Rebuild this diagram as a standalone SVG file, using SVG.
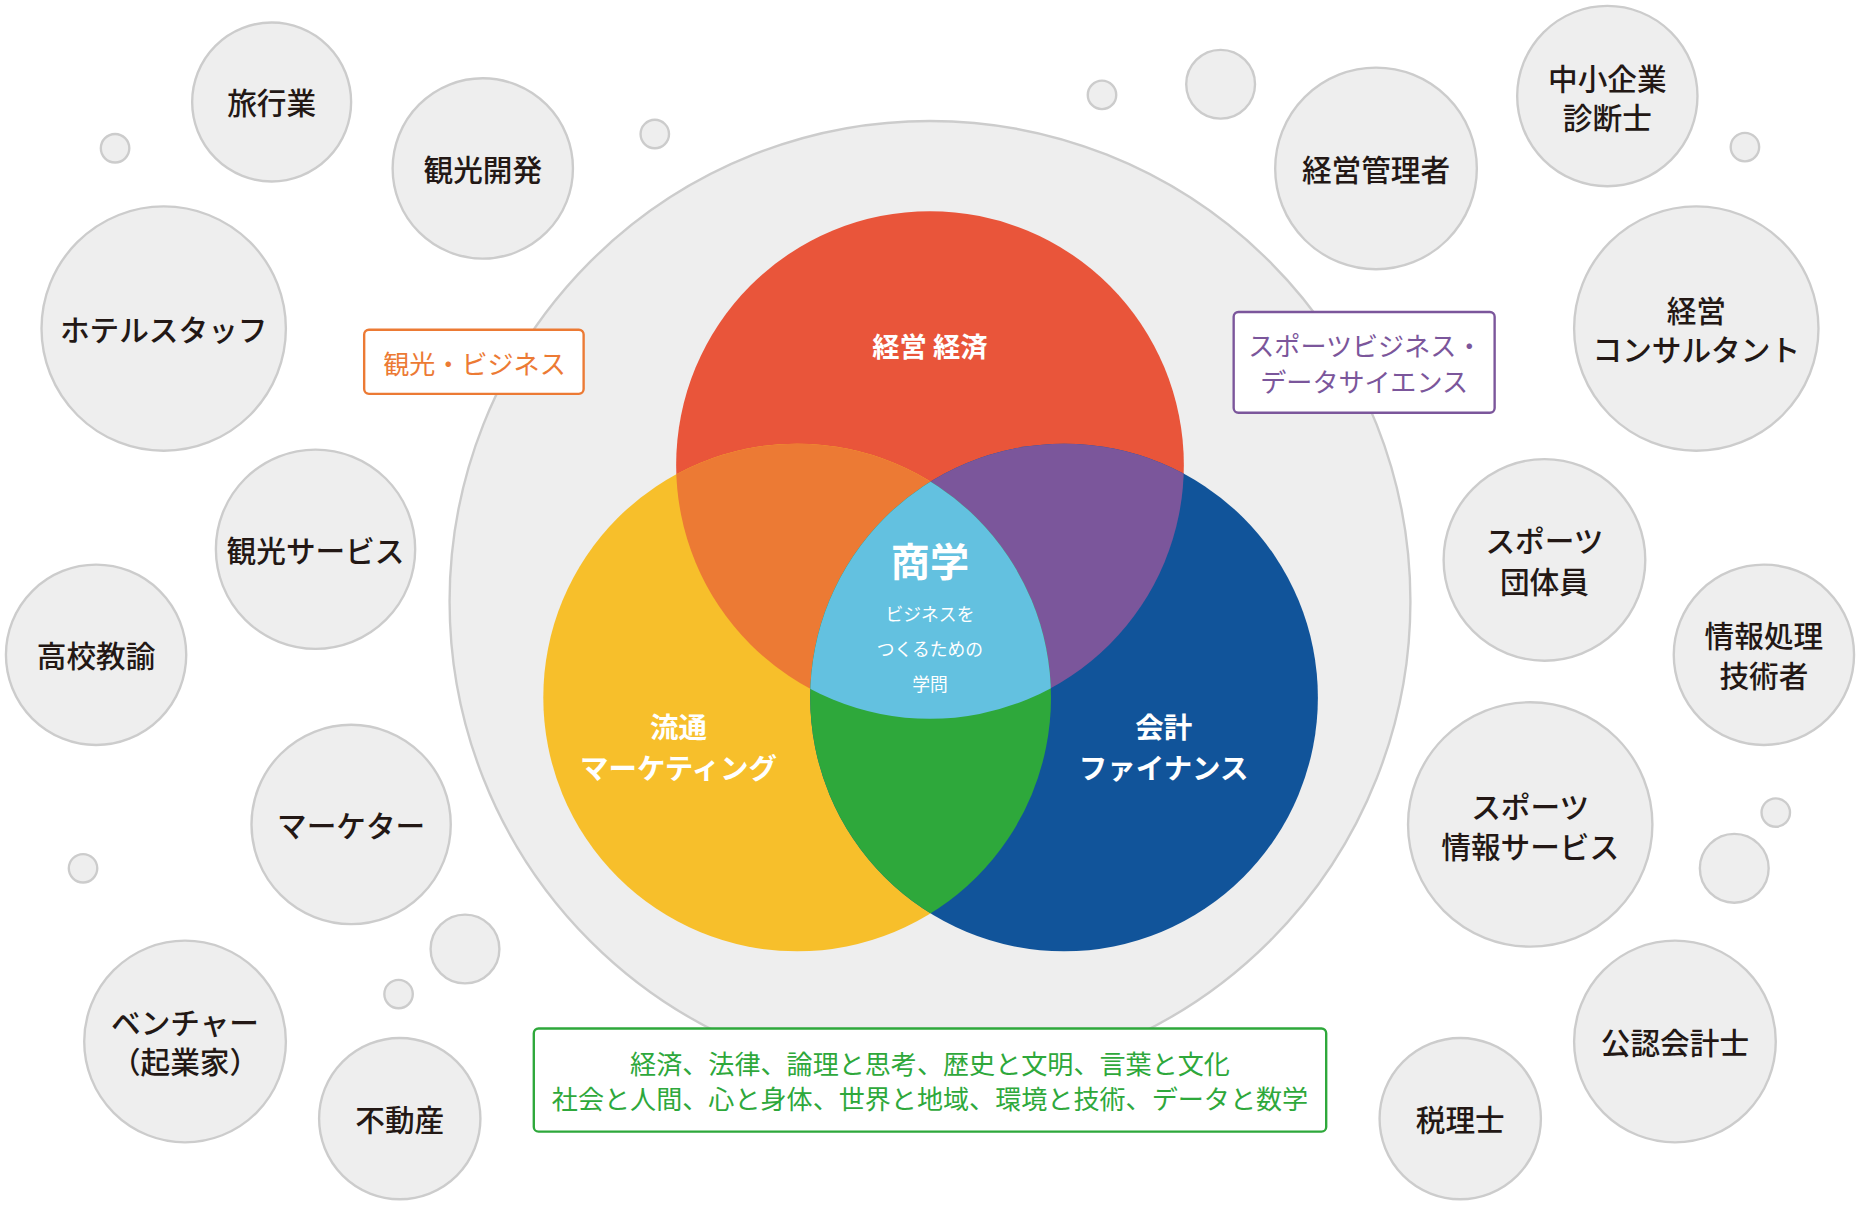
<svg xmlns="http://www.w3.org/2000/svg" width="1860" height="1206" viewBox="0 0 1860 1206">
<style>
text{font-family:"Noto Sans CJK JP","Noto Sans",sans-serif;text-anchor:middle;dominant-baseline:central}
.b{fill:#eeeeee;stroke:#cccccc;stroke-width:2}
.bt{fill:#231815;font-size:25px;font-weight:500}
.w{fill:#ffffff;font-weight:700}
</style>
<defs>
<clipPath id="cy"><circle cx="672" cy="588" r="214"/></clipPath>
<clipPath id="cb"><circle cx="897" cy="588" r="214"/></clipPath>
</defs>
<rect width="1860" height="1206" fill="#ffffff"/>
<g transform="scale(1.18622)">
<g id="outer"><circle cx="784" cy="507" r="405" class="b"/></g>
<g id="venn">
<circle cx="784" cy="392" r="214" fill="#e9553a"/>
<circle cx="672" cy="588" r="214" fill="#f7bf2b"/>
<circle cx="897" cy="588" r="214" fill="#11549a"/>
<circle cx="784" cy="392" r="214" fill="#ec7a34" clip-path="url(#cy)"/>
<circle cx="784" cy="392" r="214" fill="#7b569b" clip-path="url(#cb)"/>
<circle cx="672" cy="588" r="214" fill="#2ea83b" clip-path="url(#cb)"/>
<g clip-path="url(#cy)"><circle cx="784" cy="392" r="214" fill="#63c1e0" clip-path="url(#cb)"/></g>
<text x="784" y="291" class="w" font-size="23">経営 経済</text>
<text x="784" y="471" class="w" font-size="33">商学</text>
<text x="784" y="517" fill="#fff" font-size="15">ビジネスを</text>
<text x="784" y="546" fill="#fff" font-size="15">つくるための</text>
<text x="784" y="576" fill="#fff" font-size="15">学問</text>
<text x="572" y="612" class="w" font-size="24">流通</text>
<text x="572" y="646" class="w" font-size="24">マーケティング</text>
<text x="981" y="612" class="w" font-size="24">会計</text>
<text x="981" y="646" class="w" font-size="24">ファイナンス</text>
</g>
<g id="label-kanko"><rect x="307" y="278" width="185" height="54" rx="4" fill="#fff" stroke="#ec7a34" stroke-width="2"/><text x="400" y="306" fill="#ec7a34" font-size="22">観光・ビジネス</text></g>
<g id="label-sports"><rect x="1040" y="263" width="220" height="85" rx="4" fill="#fff" stroke="#7b569b" stroke-width="2"/><text x="1151" y="291" fill="#7b569b" font-size="22">スポーツビジネス・</text><text x="1150" y="321" fill="#7b569b" font-size="22">データサイエンス</text></g>
<g id="label-liberal"><rect x="450" y="867" width="668" height="87" rx="4" fill="#fff" stroke="#2ea83b" stroke-width="2"/><text x="784" y="896" fill="#2ea83b" font-size="22">経済、法律、論理と思考、歴史と文明、言葉と文化</text><text x="784" y="926" fill="#2ea83b" font-size="22">社会と人間、心と身体、世界と地域、環境と技術、データと数学</text></g>
<g id="dots">
<circle cx="97" cy="125" r="12" class="b"/><circle cx="552" cy="113" r="12" class="b"/>
<circle cx="70" cy="732" r="12" class="b"/><circle cx="392" cy="800" r="29" class="b"/>
<circle cx="336" cy="838" r="12" class="b"/><circle cx="929" cy="80" r="12" class="b"/>
<circle cx="1029" cy="71" r="29" class="b"/><circle cx="1471" cy="124" r="12" class="b"/>
<circle cx="1497" cy="685" r="12" class="b"/><circle cx="1462" cy="732" r="29" class="b"/>
</g>
<g id="n1"><circle cx="229" cy="86" r="67" class="b"/><text x="229" y="86" class="bt">旅行業</text></g>
<g id="n2"><circle cx="407" cy="142" r="76" class="b"/><text x="407" y="142" class="bt">観光開発</text></g>
<g id="n3"><circle cx="138" cy="277" r="103" class="b"/><text x="138" y="277" class="bt">ホテルスタッフ</text></g>
<g id="n4"><circle cx="266" cy="463" r="84" class="b"/><text x="266" y="463" class="bt">観光サービス</text></g>
<g id="n5"><circle cx="81" cy="552" r="76" class="b"/><text x="81" y="552" class="bt">高校教諭</text></g>
<g id="n6"><circle cx="296" cy="695" r="84" class="b"/><text x="296" y="695" class="bt">マーケター</text></g>
<g id="n7"><circle cx="156" cy="878" r="85" class="b"/><text x="156" y="861" class="bt">ベンチャー</text><text x="156" y="894" class="bt">（起業家）</text></g>
<g id="n8"><circle cx="337" cy="943" r="68" class="b"/><text x="337" y="943" class="bt">不動産</text></g>
<g id="n9"><circle cx="1160" cy="142" r="85" class="b"/><text x="1160" y="142" class="bt">経営管理者</text></g>
<g id="n10"><circle cx="1355" cy="81" r="76" class="b"/><text x="1355" y="65" class="bt">中小企業</text><text x="1355" y="98" class="bt">診断士</text></g>
<g id="n11"><circle cx="1430" cy="277" r="103" class="b"/><text x="1430" y="261" class="bt">経営</text><text x="1430" y="294" class="bt">コンサルタント</text></g>
<g id="n12"><circle cx="1302" cy="472" r="85" class="b"/><text x="1302" y="455" class="bt">スポーツ</text><text x="1302" y="489" class="bt">団体員</text></g>
<g id="n13"><circle cx="1487" cy="552" r="76" class="b"/><text x="1487" y="535" class="bt">情報処理</text><text x="1487" y="569" class="bt">技術者</text></g>
<g id="n14"><circle cx="1290" cy="695" r="103" class="b"/><text x="1290" y="679" class="bt">スポーツ</text><text x="1290" y="713" class="bt">情報サービス</text></g>
<g id="n15"><circle cx="1412" cy="878" r="85" class="b"/><text x="1412" y="878" class="bt">公認会計士</text></g>
<g id="n16"><circle cx="1231" cy="943" r="68" class="b"/><text x="1231" y="943" class="bt">税理士</text></g>
<g id="connectors"/>
</g>
</svg>
